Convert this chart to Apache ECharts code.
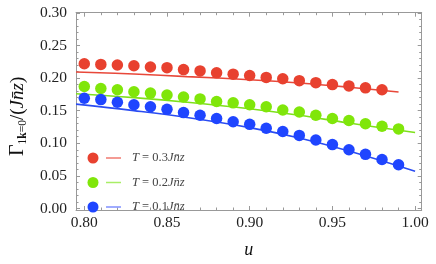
<!DOCTYPE html>
<html><head><meta charset="utf-8">
<script src="https://cdn.jsdelivr.net/npm/echarts@6/dist/echarts.min.js"></script>
<style>html,body{margin:0;padding:0;background:#fff}#c{width:436px;height:264px}</style>
</head><body><div id="c"></div>
<script>
// ---- data ----
const uValues = [0.80,0.81,0.82,0.83,0.84,0.85,0.86,0.87,0.88,0.89,0.90,0.91,0.92,0.93,0.94,0.95,0.96,0.97,0.98,0.99];
const seriesNames = ['T = 0.3Jn\u0304z', 'T = 0.2Jn\u0304z', 'T = 0.1Jn\u0304z'];
const redPoints   = [0.222,0.221,0.220,0.219,0.217,0.216,0.213,0.211,0.208,0.206,0.204,0.201,0.199,0.196,0.193,0.190,0.188,0.185,0.182];
const greenPoints = [0.187,0.184,0.182,0.179,0.177,0.174,0.171,0.168,0.164,0.162,0.159,0.156,0.151,0.148,0.143,0.138,0.135,0.130,0.126,0.122];
const bluePoints  = [0.169,0.167,0.163,0.159,0.156,0.152,0.147,0.143,0.138,0.133,0.129,0.123,0.118,0.112,0.105,0.098,0.090,0.083,0.075,0.067];
const redLineU   = [0.795,0.83,0.862,0.90,0.93,0.96,0.99];
const redLine    = [0.2094,0.2063,0.2023,0.1975,0.1925,0.1860,0.1786];
const greenLineU = [0.795,0.83,0.862,0.90,0.93,0.96,1.00];
const greenLine  = [0.1760,0.1700,0.1630,0.1530,0.1430,0.1310,0.1165];
const blueLineU  = [0.795,0.83,0.862,0.90,0.93,0.96,1.00];
const blueLine   = [0.1600,0.1500,0.1395,0.1240,0.1080,0.0880,0.0570];
const xMajorTicks = [0.80,0.85,0.90,0.95,1.00];
const xMinorTicks = [0.81,0.82,0.83,0.84,0.86,0.87,0.88,0.89,0.91,0.92,0.93,0.94,0.96,0.97,0.98,0.99];
const yMajorTicks = [0.00,0.05,0.10,0.15,0.20,0.25,0.30];
const yMinorTicks = [0.01,0.02,0.03,0.04,0.06,0.07,0.08,0.09,0.11,0.12,0.13,0.14,0.16,0.17,0.18,0.19,0.21,0.22,0.23,0.24,0.26,0.27,0.28,0.29];

// ---- styles ----
const dotColors  = ['#e8412f', '#80e60a', '#1f45ff'];
const lineColors = ['#e8483a', '#7ee01c', '#2a4cf2'];
const legLineColors = ['#f07a70', '#a8ee66', '#8090ff'];
const SERIF = '"Liberation Serif", "DejaVu Serif", serif';
const frameColor = '#999';
const X_MIN = 0.795, X_MAX = 1.004, Y_MIN = -0.0024, Y_MAX = 0.3003;

const pair = (xs, ys) => ys.map((v, i) => [xs[i], v]);
const fmt2 = v => Number(v).toFixed(2);

function xAx(position, ticks, len, labels, lineShow, extra) {
  return Object.assign({
    type: 'value', min: X_MIN, max: X_MAX, position: position, gridIndex: 0,
    axisLine: { show: lineShow, onZero: false, lineStyle: { color: frameColor, width: 1 } },
    axisTick: { show: true, inside: true, length: len, customValues: ticks, lineStyle: { color: frameColor, width: 1 } },
    axisLabel: labels ? { show: true, customValues: ticks, formatter: fmt2, margin: 5, fontFamily: SERIF, fontSize: 15.5, color: '#222' } : { show: false },
    splitLine: { show: false }
  }, extra || {});
}
function yAx(position, ticks, len, labels, lineShow, extra) {
  return Object.assign({
    type: 'value', min: Y_MIN, max: Y_MAX, position: position, gridIndex: 0,
    axisLine: { show: lineShow, onZero: false, lineStyle: { color: frameColor, width: 1 } },
    axisTick: { show: true, inside: true, length: len, customValues: ticks, lineStyle: { color: frameColor, width: 1 } },
    axisLabel: labels ? { show: true, customValues: ticks, formatter: fmt2, margin: 9, fontFamily: SERIF, fontSize: 15.5, color: '#222' } : { show: false },
    splitLine: { show: false }
  }, extra || {});
}

const pointSets = [redPoints, greenPoints, bluePoints];
const lineSets = [[redLineU, redLine], [greenLineU, greenLine], [blueLineU, blueLine]];
const series = [];
lineSets.forEach((ls, i) => {
  series.push({
    name: seriesNames[i], type: 'line', xAxisIndex: 0, yAxisIndex: 0,
    data: pair(ls[0], ls[1]), smooth: 0.4, showSymbol: false, symbol: 'none',
    lineStyle: { color: lineColors[i], width: 1.6 }, itemStyle: { color: legLineColors[i] }, z: 2
  });
});
pointSets.forEach((ps, i) => {
  series.push({
    name: 'pts' + i, type: 'scatter', xAxisIndex: 0, yAxisIndex: 0,
    data: pair(uValues, ps), symbol: 'circle', symbolSize: 11.5,
    itemStyle: { color: dotColors[i], opacity: 1 }, z: 3
  });
});

const chart = echarts.init(document.getElementById('c'), null, { renderer: 'canvas' });
chart.setOption({
  animation: false,
  backgroundColor: '#fff',
  grid: { left: 72.7, right: 14.3, top: 12.7, bottom: 39, containLabel: false },
  xAxis: [
    xAx('bottom', xMajorTicks, 4, true, true, {
      name: 'u', nameLocation: 'middle', nameGap: 31,
      nameTextStyle: { fontFamily: SERIF, fontStyle: 'italic', fontSize: 18, color: '#111' }
    }),
    xAx('bottom', xMinorTicks, 2.5, false, false),
    xAx('top', xMajorTicks, 4, false, true),
    xAx('top', xMinorTicks, 2.5, false, false)
  ],
  yAxis: [
    yAx('left', yMajorTicks, 4, true, true, {
      name: '{g|Γ}{s|1}{sb|k}{s|=0}{n|/(}{i|Jn\u0304z}{n|)}',
      nameLocation: 'middle', nameRotate: 90, nameGap: 46,
      nameTextStyle: {
        color: '#111', fontFamily: SERIF, padding: [0, 10, 0, 0],
        rich: {
          g: { fontFamily: SERIF, fontSize: 20, color: '#111', lineHeight: 22 },
          s: { fontFamily: SERIF, fontSize: 11.5, color: '#111', verticalAlign: 'bottom', lineHeight: 11 },
          sb: { fontFamily: SERIF, fontSize: 11.5, fontWeight: 'bold', color: '#111', verticalAlign: 'bottom', lineHeight: 11 },
          n: { fontFamily: SERIF, fontSize: 19, color: '#111', lineHeight: 22 },
          i: { fontFamily: SERIF, fontSize: 19, fontStyle: 'italic', color: '#111', lineHeight: 22 }
        }
      }
    }),
    yAx('left', yMinorTicks, 2.5, false, false),
    yAx('right', yMajorTicks, 4, false, true),
    yAx('right', yMinorTicks, 2.5, false, false)
  ],
  legend: [
    {
      data: ['pts0', 'pts1', 'pts2'].map(n => ({ name: n, icon: 'circle' })),
      orient: 'vertical', left: 87.5, top: 152.5, itemWidth: 11, itemHeight: 11, itemGap: 13.5,
      formatter: () => '', textStyle: { fontSize: 8, lineHeight: 11 }, selectedMode: false, padding: 0
    },
    {
      data: seriesNames.map((n, i) => ({ name: n, icon: 'rect', itemStyle: { color: legLineColors[i] } })),
      orient: 'vertical', left: 106, top: 151, itemWidth: 15, itemHeight: 1.5, itemGap: 10.5,
      selectedMode: false, padding: 0,
      formatter: n => n.replace(/^T/, '{i|T}').replace(/(J.*)$/, '{i|$1}'),
      textStyle: {
        fontFamily: SERIF, fontSize: 12.5, color: '#444', lineHeight: 14, padding: [0, 0, 0, 6],
        rich: { i: { fontFamily: SERIF, fontSize: 12.5, fontStyle: 'italic', color: '#444', lineHeight: 14 } }
      }
    }
  ],
  series: series
});
</script>
</body></html>
